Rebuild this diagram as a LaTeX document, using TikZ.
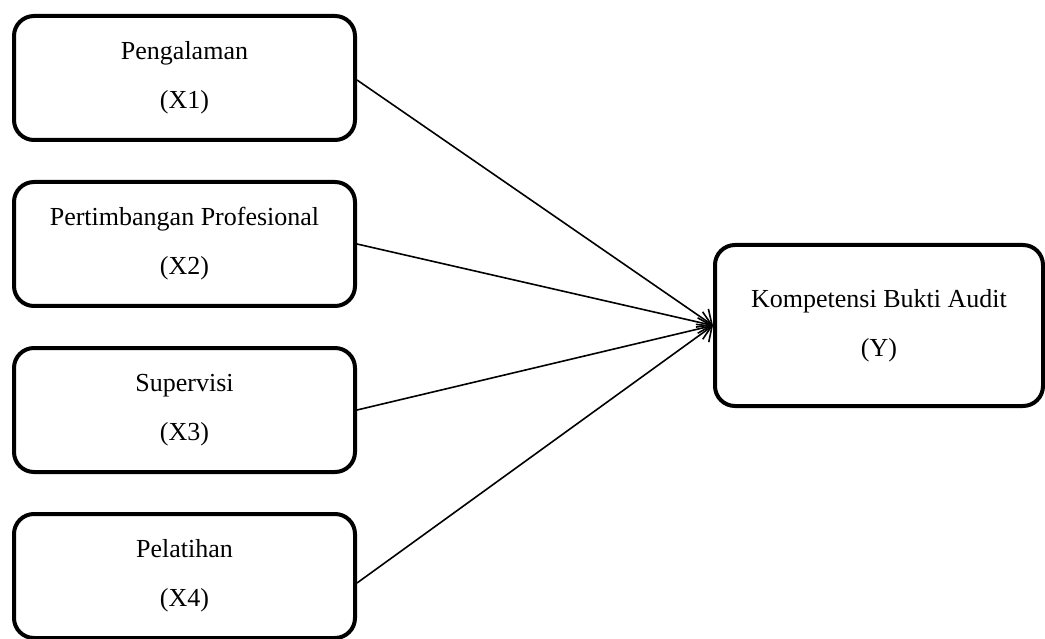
\documentclass[tikz,border=0pt]{standalone}
\usepackage{fontspec}
\setmainfont{Liberation Serif}
\usetikzlibrary{positioning,arrows.meta}

\tikzset{
  var/.style={draw, line width=4pt, rounded corners=20pt, align=center,
    minimum width=341pt, minimum height=124pt, inner sep=0pt,
    font=\fontsize{26}{49}\selectfont},
  dep/.style={var, minimum width=328pt, minimum height=161pt}
}

\begin{document}
\begin{tikzpicture}[x=1pt,y=1pt,node distance=166pt,on grid]
      \useasboundingbox (0,0) rectangle (1045,-639);
      \node[var] (x1) at (184.5,-78) {Pengalaman\\(X1)};
      \node[var] (x2) [below=of x1] {Pertimbangan Profesional\\(X2)};
      \node[var] (x3) [below=of x2] {Supervisi\\(X3)};
      \node[var] (x4) [below=of x3] {Pelatihan\\(X4)};
      \node[dep] (y) at (879,-325.5) {Kompetensi Bukti Audit\\(Y)};
      \path[-{Straight Barb[length=12pt,width=22pt]}, line width=1.6pt]
        ([yshift=-2pt]x1.east) edge (y.west)
        (x2.east) edge (y.west)
        (x3.east) edge (y.west)
        ([yshift=-7pt]x4.east) edge (y.west);
    \end{tikzpicture}
\end{document}
